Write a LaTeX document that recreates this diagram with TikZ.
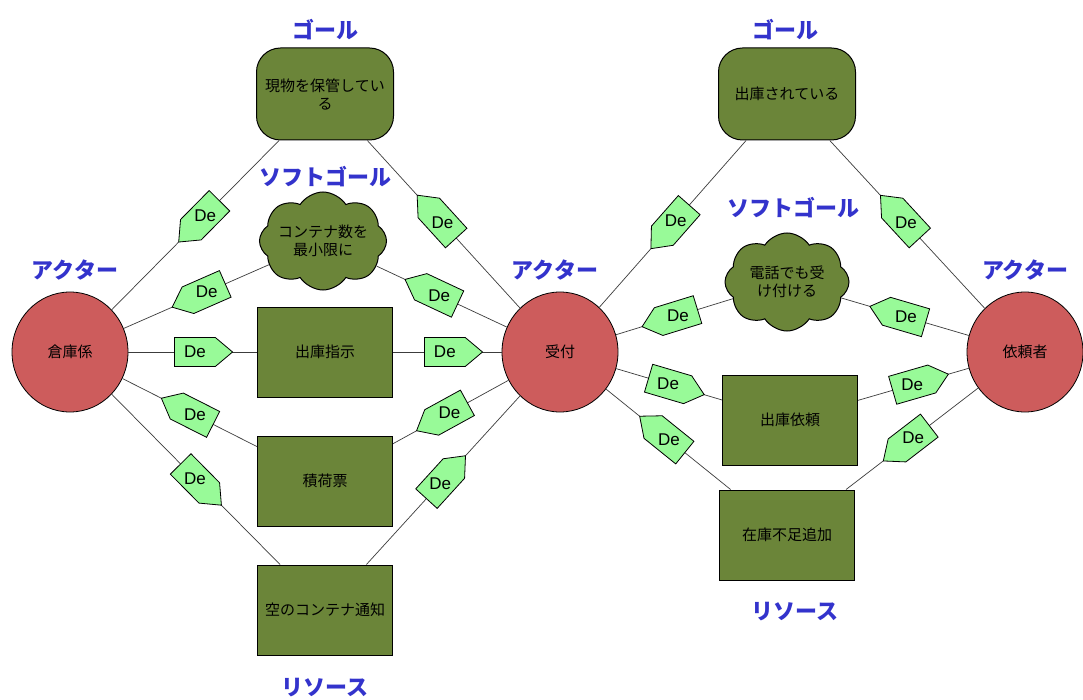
\documentclass[tikz,border=0pt]{standalone}
\usepackage{fontspec}
\setmainfont{Liberation Sans}
\newfontfamily\jp{Noto Sans CJK JP}
\usetikzlibrary{shapes.geometric,shapes.symbols}
\definecolor{goalgreen}{RGB}{107,133,57}
\definecolor{actred}{RGB}{205,92,92}
\definecolor{degreen}{RGB}{152,250,152}
\definecolor{lblue}{RGB}{51,51,204}
\definecolor{linegray}{RGB}{60,60,60}
\begin{document}
\begin{tikzpicture}[x=1pt,y=-1pt,
  every node/.style={inner sep=0pt},
  jptext/.style={font=\jp\fontsize{15}{18}\selectfont},
  actor/.style={ellipse, draw=black, line width=0.8pt, fill=actred, minimum width=116pt, minimum height=120pt, jptext},
  goalbox/.style={rectangle, rounded corners=24pt, draw=black, line width=1pt, fill=goalgreen, minimum width=137pt, minimum height=92pt, align=center, jptext},
  softgoal/.style={cloud, cloud puffs=8, cloud puff arc=115, cloud ignores aspect, draw=black, line width=1pt, fill=goalgreen, minimum width=124pt, minimum height=98pt, align=center, jptext},
  resource/.style={rectangle, draw=black, line width=1pt, fill=goalgreen, minimum width=135pt, minimum height=90pt, jptext},
  conn/.style={draw=linegray, line width=0.7pt},
  demark/.style={signal, signal from=nowhere, signal pointer angle=80, draw=black, line width=0.8pt, fill=degreen, minimum width=58pt, minimum height=29pt, inner sep=0pt},
  detext/.style={font=\fontsize{17}{17}\selectfont},
  tag/.style={text=lblue, font=\jp\bfseries\fontsize{22}{24}\selectfont}
]
\useasboundingbox[fill=white] (0,0) rectangle (1083,700);

% actors
\node[actor] (wh) at (70,352) {倉庫係};
\node[actor] (uk) at (560,352) {受付};
\node[actor] (ir) at (1025,352) {依頼者};

% goals
\node[goalbox] (g1) at (325,94) {現物を保管してい\\る};
\node[goalbox] (g2) at (787,94) {出庫されている};

% soft goals
\node[softgoal] (s1) at (323,241) {コンテナ数を\\最小限に};
\node[softgoal] (s2) at (787,282) {電話でも受\\け付ける};

% resources
\node[resource] (r1) at (325,352) {出庫指示};
\node[resource] (r2) at (325,481) {積荷票};
\node[resource] (r3) at (325,610) {空のコンテナ通知};
\node[resource] (r4) at (790,420) {出庫依頼};
\node[resource] (r5) at (787,535) {在庫不足追加};

% type labels
\node[tag] (t1) at (325,30) {ゴール};
\node[tag] (t2) at (785,30) {ゴール};
\node[tag] (t3) at (325,177) {ソフトゴール};
\node[tag] (t4) at (793,208) {ソフトゴール};
\node[tag] (t5) at (75,270) {アクター};
\node[tag] (t6) at (555,270) {アクター};
\node[tag] (t7) at (1025,270) {アクター};
\node[tag] (t8) at (325,688) {リソース};
\node[tag] (t9) at (795,612) {リソース};

% connectors
\draw[conn] (wh) -- (g1);
\draw[conn] (wh) -- (s1);
\draw[conn] (wh) -- (r1);
\draw[conn] (wh) -- (r2);
\draw[conn] (wh) -- (r3);
\draw[conn] (g1) -- (uk);
\draw[conn] (s1) -- (uk);
\draw[conn] (r1) -- (uk);
\draw[conn] (r2) -- (uk);
\draw[conn] (r3) -- (uk);
\draw[conn] (uk) -- (g2);
\draw[conn] (uk) -- (s2);
\draw[conn] (uk) -- (r4);
\draw[conn] (uk) -- (r5);
\draw[conn] (g2) -- (ir);
\draw[conn] (s2) -- (ir);
\draw[conn] (r4) -- (ir);
\draw[conn] (r5) -- (ir);

% De markers
\path (wh.center) -- (g1.center) node[demark, signal to=west, pos=0.53, sloped] (d1) {};
\path (wh.center) -- (s1.center) node[demark, signal to=west, pos=0.54, sloped] (d2) {};
\path (wh.center) -- (r1.center) node[demark, signal to=east, pos=0.49, sloped] (d3) {};
\path (wh.center) -- (r2.center) node[demark, signal to=west, pos=0.49, sloped] (d4) {};
\path (wh.center) -- (r3.center) node[demark, signal to=east, pos=0.49, sloped] (d5) {};
\path (g1.center) -- (uk.center) node[demark, signal to=west, pos=0.50, sloped] (d6) {};
\path (s1.center) -- (uk.center) node[demark, signal to=west, pos=0.49, sloped] (d7) {};
\path (r1.center) -- (uk.center) node[demark, signal to=east, pos=0.51, sloped] (d8) {};
\path (r2.center) -- (uk.center) node[demark, signal to=west, pos=0.53, sloped] (d9) {};
\path (r3.center) -- (uk.center) node[demark, signal to=east, pos=0.49, sloped] (d10) {};
\path (uk.center) -- (g2.center) node[demark, signal to=west, pos=0.51, sloped] (d11) {};
\path (uk.center) -- (s2.center) node[demark, signal to=west, pos=0.52, sloped] (d12) {};
\path (uk.center) -- (r4.center) node[demark, signal to=east, pos=0.47, sloped] (d13) {};
\path (uk.center) -- (r5.center) node[demark, signal to=west, pos=0.48, sloped] (d14) {};
\path (g2.center) -- (ir.center) node[demark, signal to=west, pos=0.50, sloped] (d15) {};
\path (s2.center) -- (ir.center) node[demark, signal to=west, pos=0.50, sloped] (d16) {};
\path (r4.center) -- (ir.center) node[demark, signal to=east, pos=0.52, sloped] (d17) {};
\path (r5.center) -- (ir.center) node[demark, signal to=west, pos=0.53, sloped] (d18) {};

\foreach \i in {1,...,18} {\node[detext] (dt\i) at (d\i) {De};}
\end{tikzpicture}
\end{document}
